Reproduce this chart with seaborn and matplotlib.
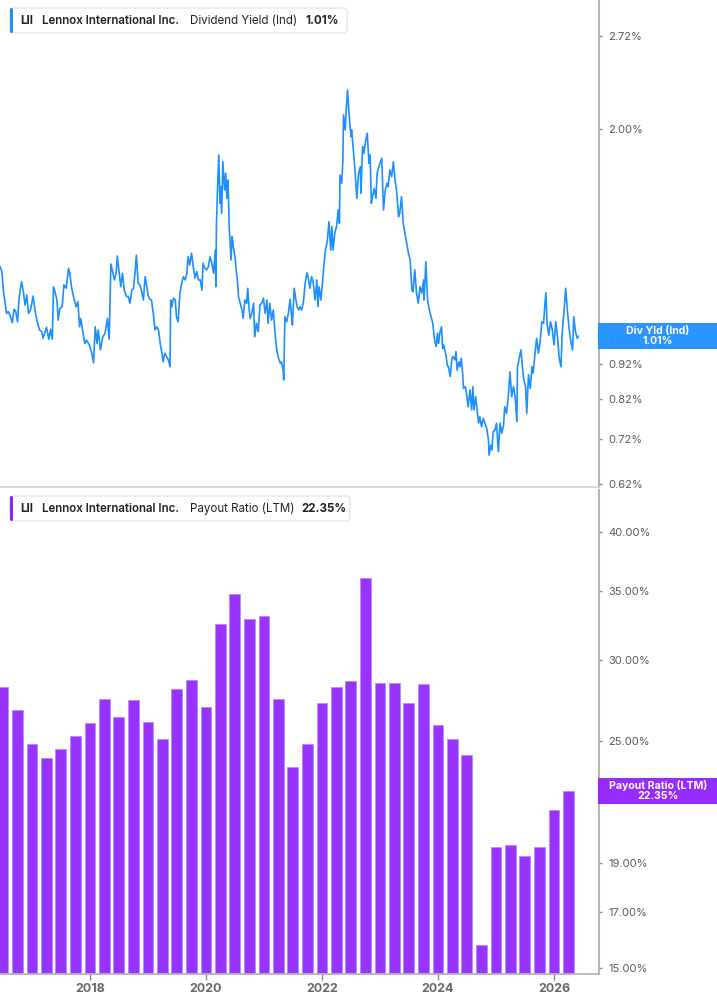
import numpy as np
import pandas as pd
import matplotlib
matplotlib.use("Agg")
import matplotlib.pyplot as plt
import seaborn as sns
from matplotlib.patches import FancyBboxPatch, Rectangle
from matplotlib.transforms import IdentityTransform

# ---------------- data ----------------
yield_years = [
    2016.45, 2016.48, 2016.51, 2016.53, 2016.56, 2016.59, 2016.62, 2016.66, 2016.69, 2016.72,
    2016.75, 2016.78, 2016.82, 2016.85, 2016.88, 2016.91, 2016.94, 2016.97, 2016.99, 2017.02,
    2017.05, 2017.09, 2017.13, 2017.17, 2017.19, 2017.22, 2017.25, 2017.29, 2017.32, 2017.35,
    2017.37, 2017.40, 2017.43, 2017.45, 2017.48, 2017.52, 2017.55, 2017.59, 2017.63, 2017.65,
    2017.68, 2017.72, 2017.76, 2017.79, 2017.82, 2017.84, 2017.88, 2017.91, 2017.94, 2017.99,
    2018.03, 2018.06, 2018.09, 2018.12, 2018.14, 2018.18, 2018.22, 2018.26, 2018.30, 2018.33,
    2018.36, 2018.39, 2018.42, 2018.45, 2018.47, 2018.50, 2018.53, 2018.56, 2018.59, 2018.63,
    2018.66, 2018.69, 2018.72, 2018.75, 2018.78, 2018.80, 2018.83, 2018.86, 2018.89, 2018.92,
    2018.95, 2018.98, 2019.00, 2019.03,
    2019.06, 2019.09, 2019.12, 2019.15, 2019.18, 2019.21, 2019.24, 2019.26, 2019.29, 2019.32,
    2019.35, 2019.38, 2019.39, 2019.41, 2019.44, 2019.47, 2019.49, 2019.52, 2019.55, 2019.58,
    2019.61, 2019.64, 2019.67, 2019.69, 2019.72, 2019.75, 2019.78, 2019.81, 2019.84, 2019.87,
    2019.90, 2019.93, 2019.95, 2019.98, 2020.01, 2020.04, 2020.07, 2020.10, 2020.13, 2020.16,
    2020.17, 2020.18, 2020.20, 2020.22, 2020.24, 2020.25, 2020.27, 2020.29, 2020.32, 2020.34,
    2020.36, 2020.38, 2020.40, 2020.41, 2020.43, 2020.45, 2020.47, 2020.50, 2020.52, 2020.54,
    2020.56, 2020.59, 2020.62, 2020.64, 2020.67, 2020.70, 2020.72, 2020.74, 2020.76, 2020.79,
    2020.82, 2020.84, 2020.87, 2020.90, 2020.93, 2020.96, 2020.99, 2021.02, 2021.05, 2021.07,
    2021.10, 2021.13, 2021.16, 2021.19, 2021.22, 2021.25, 2021.28, 2021.30, 2021.33, 2021.34,
    2021.36, 2021.39, 2021.42, 2021.45, 2021.48, 2021.49, 2021.52, 2021.55, 2021.57, 2021.60,
    2021.62, 2021.65, 2021.68, 2021.71, 2021.74, 2021.76, 2021.79, 2021.82, 2021.85, 2021.88,
    2021.91, 2021.93, 2021.95, 2021.98, 2022.01, 2022.03, 2022.06, 2022.09, 2022.12, 2022.15,
    2022.17, 2022.19, 2022.22, 2022.25, 2022.28, 2022.30, 2022.31, 2022.34, 2022.36, 2022.37,
    2022.40, 2022.41, 2022.44, 2022.47, 2022.50, 2022.51, 2022.54, 2022.57, 2022.60, 2022.63,
    2022.66, 2022.67, 2022.70, 2022.72, 2022.75, 2022.78, 2022.81, 2022.83, 2022.85, 2022.87,
    2022.90, 2022.93, 2022.95, 2022.98, 2023.01, 2023.03, 2023.06, 2023.09, 2023.12, 2023.14,
    2023.17, 2023.20, 2023.23, 2023.26, 2023.29, 2023.32, 2023.34, 2023.37, 2023.40, 2023.43,
    2023.46, 2023.49, 2023.52, 2023.55, 2023.57, 2023.60, 2023.63, 2023.66, 2023.69, 2023.72,
    2023.75, 2023.76, 2023.79, 2023.82, 2023.85, 2023.88, 2023.91, 2023.94, 2023.97, 2023.99,
    2024.01, 2024.03,
    2024.06, 2024.08, 2024.10, 2024.14, 2024.16, 2024.18, 2024.21, 2024.24, 2024.26, 2024.29,
    2024.31, 2024.33, 2024.36, 2024.38, 2024.40, 2024.42, 2024.44, 2024.47, 2024.49, 2024.52,
    2024.55, 2024.58, 2024.60, 2024.62, 2024.65, 2024.68, 2024.70, 2024.72, 2024.75, 2024.78,
    2024.81, 2024.84, 2024.87, 2024.88, 2024.91, 2024.93, 2024.95, 2024.98, 2025.01, 2025.04,
    2025.07, 2025.10, 2025.13, 2025.15, 2025.18, 2025.21, 2025.24, 2025.27, 2025.30, 2025.33,
    2025.36, 2025.37, 2025.40, 2025.43, 2025.46, 2025.48, 2025.51, 2025.53, 2025.56, 2025.59,
    2025.62, 2025.64, 2025.67, 2025.70, 2025.73, 2025.76, 2025.79, 2025.82, 2025.84, 2025.86,
    2025.88, 2025.91, 2025.94, 2025.97, 2026.00, 2026.03, 2026.06, 2026.09, 2026.12, 2026.14,
    2026.17, 2026.20, 2026.23, 2026.26, 2026.29, 2026.32, 2026.34, 2026.37, 2026.40, 2026.42,
]

yield_values = [
    1.270, 1.250, 1.164, 1.138, 1.089, 1.095, 1.083, 1.056, 1.104, 1.095,
    1.059, 1.151, 1.209, 1.170, 1.119, 1.157, 1.089, 1.099, 1.119, 1.153,
    1.101, 1.059, 1.031, 1.025, 1.003, 1.020, 1.040, 1.000, 1.033, 1.000,
    1.189, 1.166, 1.138, 1.065, 1.107, 1.113, 1.196, 1.183, 1.264, 1.243,
    1.189, 1.145, 1.113, 1.132, 1.042, 1.071, 1.020, 0.986, 0.997, 0.981,
    0.955, 0.925, 1.042, 0.986, 1.031, 0.965, 1.008, 1.020, 1.071, 1.000,
    1.282, 1.250, 1.216, 1.243, 1.316, 1.250, 1.189, 1.243, 1.176, 1.151,
    1.151, 1.126, 1.176, 1.183, 1.257, 1.320, 1.203, 1.196, 1.170, 1.138,
    1.229, 1.189, 1.157, 1.141,
    1.138, 1.089, 1.031, 1.042, 1.031, 0.986, 0.955, 0.928, 0.955, 0.944,
    0.934, 0.913, 1.138, 1.113, 1.145, 1.138, 1.077, 1.059, 1.164, 1.203,
    1.229, 1.216, 1.243, 1.313, 1.277, 1.328, 1.270, 1.223, 1.250, 1.216,
    1.216, 1.176, 1.285, 1.264, 1.257, 1.270, 1.313, 1.285, 1.243, 1.342,
    1.189, 1.466, 1.654, 1.837, 1.566, 1.654, 1.515, 1.796, 1.636, 1.729,
    1.592, 1.691, 1.442, 1.403, 1.299, 1.403, 1.357, 1.313, 1.257, 1.216,
    1.151, 1.126, 1.101, 1.071, 1.138, 1.126, 1.183, 1.113, 1.071, 1.089,
    1.126, 1.008, 1.054, 1.025, 1.119, 1.126, 1.145, 1.089, 1.138, 1.054,
    1.126, 1.065, 1.101, 1.020, 0.965, 0.939, 0.924, 0.928, 0.903, 0.874,
    1.077, 1.059, 1.089, 1.141, 1.065, 1.048, 1.183, 1.138, 1.113, 1.101,
    1.113, 1.101, 1.132, 1.203, 1.245, 1.229, 1.183, 1.229, 1.203, 1.138,
    1.216, 1.113, 1.189, 1.138, 1.209, 1.270, 1.342, 1.380, 1.474, 1.342,
    1.450, 1.342, 1.418, 1.450, 1.532, 1.466, 1.719, 1.673, 1.807, 2.096,
    1.995, 2.084, 2.276, 2.084, 1.951, 1.995, 1.867, 1.738, 1.592, 1.729,
    1.767, 1.619, 1.888, 1.847, 1.919, 1.973, 1.787, 1.837, 1.566, 1.600,
    1.645, 1.592, 1.729, 1.767, 1.796, 1.817, 1.532, 1.636, 1.673, 1.654,
    1.748, 1.710, 1.796, 1.691, 1.619, 1.498, 1.515, 1.600, 1.466, 1.418,
    1.372, 1.328, 1.299, 1.176, 1.170, 1.257, 1.164, 1.126, 1.189, 1.164,
    1.216, 1.138, 1.291, 1.138, 1.101, 1.077, 1.054, 0.997, 0.976, 1.020,
    0.986, 1.020,
    1.042, 0.970, 0.981, 0.944, 0.918, 0.913, 0.884, 0.939, 0.944, 0.934,
    0.960, 0.903, 0.928, 0.913, 0.939, 0.903, 0.850, 0.855, 0.837, 0.800,
    0.846, 0.792, 0.855, 0.792, 0.827, 0.783, 0.758, 0.774, 0.749, 0.770,
    0.758, 0.745, 0.717, 0.682, 0.705, 0.694, 0.737, 0.741, 0.758, 0.690,
    0.758, 0.733, 0.753, 0.800, 0.783, 0.823, 0.898, 0.827, 0.855, 0.827,
    0.762, 0.913, 0.939, 0.965, 0.903, 0.874, 0.855, 0.783, 0.889, 0.850,
    0.913, 0.894, 0.949, 1.003, 0.955, 0.992, 1.059, 1.054, 1.113, 1.166,
    1.054, 1.014, 1.059, 1.031, 0.981, 1.059, 1.008, 0.939, 0.913, 1.020,
    1.089, 1.183, 1.101, 1.036, 0.992, 0.965, 1.077, 1.025, 1.003, 1.010,
]

payout_periods = [
    "2016Q2", "2016Q3", "2016Q4",
    "2017Q1", "2017Q2", "2017Q3", "2017Q4",
    "2018Q1", "2018Q2", "2018Q3", "2018Q4",
    "2019Q1", "2019Q2", "2019Q3", "2019Q4",
    "2020Q1", "2020Q2", "2020Q3", "2020Q4",
    "2021Q1", "2021Q2", "2021Q3", "2021Q4",
    "2022Q1", "2022Q2", "2022Q3", "2022Q4",
    "2023Q1", "2023Q2", "2023Q3", "2023Q4",
    "2024Q1", "2024Q2", "2024Q3", "2024Q4",
    "2025Q1", "2025Q2", "2025Q3", "2025Q4",
    "2026Q1",
]
payout_values = [
    28.2, 26.8, 24.8,
    24.06, 24.57, 25.3, 26.0,
    27.45, 26.4, 27.4, 26.1,
    25.1, 28.1, 28.7, 27.0,
    32.5, 34.8, 32.9, 33.1,
    27.5, 23.6, 24.8, 27.2,
    28.2, 28.6, 36.1, 28.5,
    28.5, 27.2, 28.4, 25.9,
    25.1, 24.2, 15.8, 19.7,
    19.8, 19.3, 19.7, 21.4,
    22.35,
]

yield_ticks = [0.62, 0.72, 0.82, 0.92, 1.00, 2.00, 2.72]
payout_ticks = [15, 17, 19, 25, 30, 35, 40]
year_ticks = [2018, 2020, 2022, 2024, 2026]

company = "Lennox International Inc."
ticker = "LII"
yield_name, yield_last = "Dividend Yield (Ind)", 1.01
payout_name, payout_last = "Payout Ratio (LTM)", 22.35

# ---------------- style ----------------
sns.set_theme(style="white")
plt.rcParams["font.family"] = ["Inter", "DejaVu Sans"]

BLUE = "#1e8fff"
PURPLE = "#9933ff"
PURPLE_BOX = "#8f1fff"
SPINE = "#b5b5b5"
TICKTXT = "#5a5a5a"

W, H = 717, 1005
fig = plt.figure(figsize=(W / 100, H / 100), dpi=100)
fig.patch.set_facecolor("white")

ax1 = fig.add_axes([0, 1 - 487 / H, 599 / W, 487 / H])
ax2 = fig.add_axes([0, 1 - 974 / H, 599 / W, 484 / H])

x0 = 2016.448
x1 = x0 + 599 / 58.0

# ---- top: dividend yield line ----
sns.lineplot(x=yield_years, y=yield_values, ax=ax1, color=BLUE,
             linewidth=1.2, estimator=None, sort=False)
ax1.set_yscale("log")
ax1.set_ylim(0.614, 3.063)
ax1.set_xlim(x0, x1)
ax1.set_xticks([])
ax1.yaxis.tick_right()
ax1.set_yticks(yield_ticks, [f"{v:.2f}%" for v in yield_ticks])
ax1.yaxis.set_minor_locator(matplotlib.ticker.NullLocator())

# ---- bottom: payout ratio bars ----
per = pd.PeriodIndex(payout_periods, freq="Q")
ends = per.end_time
payout_x = [d.year + (d.dayofyear - 0.5) / (366 if d.is_leap_year else 365) for d in ends]
ax2.set_yscale("log")
ax2.bar(payout_x, payout_values, width=0.184, color=PURPLE, edgecolor="#b982ff",
        linewidth=0.5, log=True)
ax2.set_ylim(14.80, 43.96)
ax2.set_xlim(x0, x1)
ax2.yaxis.tick_right()
ax2.set_yticks(payout_ticks, [f"{v:.2f}%" for v in payout_ticks])
ax2.yaxis.set_minor_locator(matplotlib.ticker.NullLocator())
ax2.set_xticks(year_ticks, [str(y) for y in year_ticks])
ax2.xaxis.set_minor_locator(matplotlib.ticker.NullLocator())

for ax in (ax1, ax2):
    ax.set_xlabel("")
    ax.set_ylabel("")
    ax.set_facecolor("white")
    ax.grid(False)
    ax.spines["top"].set_visible(False)
    ax.spines["left"].set_visible(False)
    ax.spines["right"].set_color(SPINE)
    ax.spines["right"].set_linewidth(1.5)
    ax.spines["bottom"].set_color(SPINE)
    ax.spines["bottom"].set_linewidth(1.3)
    ax.tick_params(axis="y", which="major", right=True, left=False, length=2.5,
                   width=1, color="#888888", labelsize=8, labelcolor=TICKTXT, pad=4)
ax1.spines["bottom"].set_color("#d4d4d4")
ax2.tick_params(axis="x", which="major", bottom=True, length=4, width=1,
                color="#888888", labelsize=9, labelcolor="#666666", pad=2.5)
for lbl in ax2.get_xticklabels():
    lbl.set_fontweight("bold")

IT = IdentityTransform()


def legend_box(top, width, color, parts):
    h = 25
    fig.add_artist(FancyBboxPatch((10, H - top - h), width, h,
                                  boxstyle="round,pad=0,rounding_size=3",
                                  transform=IT, fc="white", ec="#e2e2e2", lw=0.8, zorder=5))
    fig.add_artist(FancyBboxPatch((10, H - top - h), 3, h,
                                  boxstyle="round,pad=0,rounding_size=1.5",
                                  transform=IT, fc=color, ec="none", zorder=6))
    for x, s, wgt in parts:
        fig.text(x, H - top - h / 2 - 0.5, s, transform=IT, ha="left", va="center",
                 fontsize=8.3, fontweight=wgt, color="#222222", zorder=7)


legend_box(8, 337, BLUE, [(20.5, ticker, "bold"), (42.5, company, "semibold"),
                          (190.5, yield_name, "normal"), (305.5, f"{yield_last:.2f}%", "bold")])
legend_box(496, 340, PURPLE_BOX, [(20.5, ticker, "bold"), (42.5, company, "semibold"),
                                  (190.5, payout_name, "normal"), (301.5, f"{payout_last:.2f}%", "bold")])


def value_box(ax, val, color, title, label):
    yc = ax.transData.transform((x0, val))[1]
    fig.add_artist(Rectangle((598, yc - 13), 119, 26, transform=IT, fc=color,
                             ec="none", alpha=0.95, zorder=5))
    fig.text(658, yc + 5.3, title, transform=IT, ha="center", va="center",
             fontsize=7.6, fontweight="bold", color="white", zorder=6)
    fig.text(658, yc - 5.3, label, transform=IT, ha="center", va="center",
             fontsize=7.6, fontweight="bold", color="white", zorder=6)


value_box(ax1, yield_last, BLUE, "Div Yld (Ind)", f"{yield_last:.2f}%")
value_box(ax2, payout_last, PURPLE_BOX, "Payout Ratio (LTM)", f"{payout_last:.2f}%")

fig.savefig("out.png", dpi=100, facecolor="white")
